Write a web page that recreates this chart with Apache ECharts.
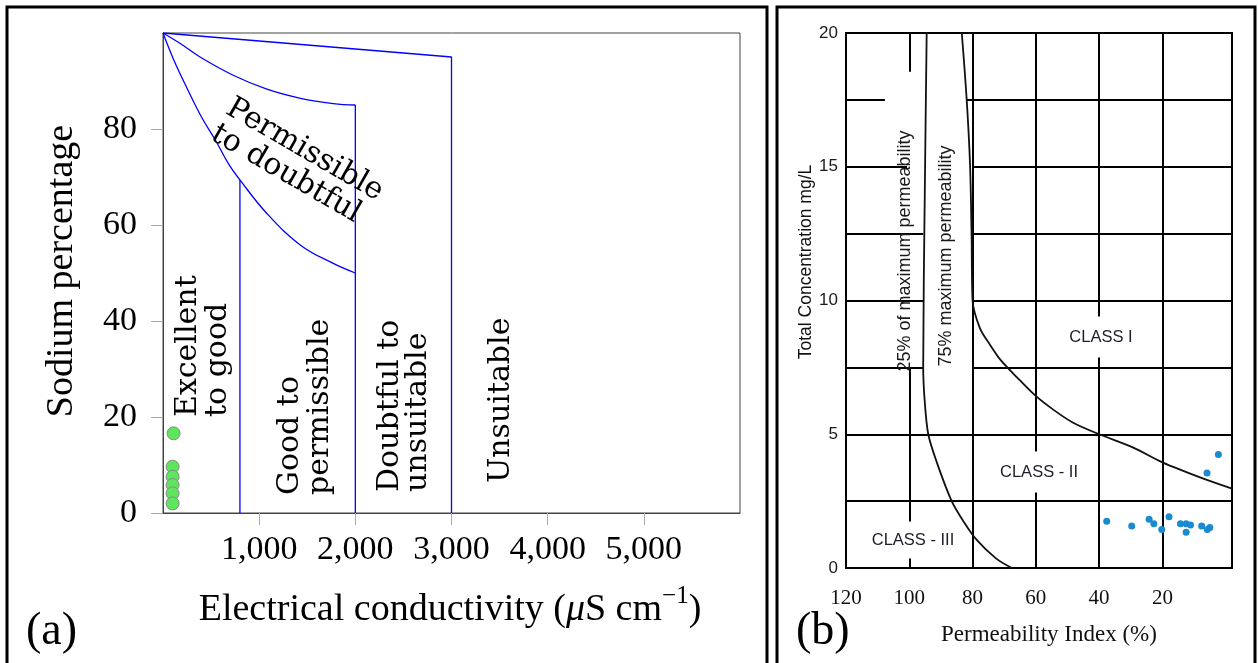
<!DOCTYPE html>
<html>
<head>
<meta charset="utf-8">
<script src="https://cdn.jsdelivr.net/npm/echarts@6/dist/echarts.min.js"></script>
<style>
  html, body { margin: 0; padding: 0; background: #fff; }
  #chart { width: 1258px; height: 663px; }
</style>
</head>
<body>
<div id="chart"></div>
<script>
// ---- panel (a): Wilcox diagram ----
const ecTicks = [1000, 2000, 3000, 4000, 5000]
const naTicks = [0, 20, 40, 60, 80]

// class boundaries (EC µS/cm, Na %)
const wilcoxTopEdge = [[0, 100], [3000, 95], [3000, 0]]
const wilcoxUpperCurve = [[0, 100], [180, 97.8], [385, 95], [730, 91.2], [1080, 88.3], [1430, 86.4], [1770, 85.3], [2000, 85]]
const wilcoxLowerCurve = [[0, 100], [110, 94.5], [250, 88.5], [400, 82.5], [550, 77.5], [680, 72.8], [800, 69.4], [1080, 62.4], [1430, 55.8], [1770, 52], [2000, 50]]
const wilcoxLine2000 = [[2000, 85], [2000, 0]]
const wilcoxLine800 = [[800, 69.4], [800, 0]]

// samples
const sampleEC = [110, 100, 100, 100, 100, 100]
const sampleNa = [16.6, 9.65, 7.56, 5.83, 4.1, 2.0]

// ---- panel (b): Doneen diagram ----
const piTicks = [120, 100, 80, 60, 40, 20]
const tcTicks = [0, 5, 10, 15, 20]

// grid segments [x, yFrom, yTo] and [y, xFrom, xTo]
const doneenVLines = [[100, 18.55, 20], [100, 0, 7.5], [80, 0, 20], [60, 0, 20], [40, 0, 20], [20, 0, 20]]
const doneenHLines = [
  [17.5, 120, 107.7], [17.5, 81.85, -2],
  [15, 120, 100.7], [15, 80, -2],
  [12.5, 120, 95.6], [12.5, 80, -2],
  [10, 120, 95.6], [10, 80, -2],
  [7.5, 120, 95.6], [7.5, 80, -2],
  [5, 120, -2], [2.5, 120, -2]
]

// permeability curves (PI %, total concentration)
const piCurve25 = [[94.5, 20], [95.1, 14], [95.6, 7.5], [95.1, 6.2], [94.0, 5.0], [91.3, 3.95], [86.6, 2.5], [82.9, 1.75], [78.7, 1.05], [72.4, 0.34], [67.6, 0]]
const piCurve75 = [[83.4, 20], [81.85, 17.5], [80.8, 15.1], [80.3, 12.4], [80, 10], [77.65, 8.96], [74.5, 8.35], [71.3, 7.8], [66.05, 7.14], [60.3, 6.46], [54.5, 5.92], [48.2, 5.43], [40, 5.0], [29.2, 4.5], [20, 3.95], [8.1, 3.39], [-2, 2.97]]

// samples
const samplePI = [37.6, 29.7, 24.2, 22.7, 20.2, 17.9, 14.3, 12.5, 12.5, 11.1, 7.6, 5.8, 5.0, 5.9, 2.3]
const sampleTC = [1.75, 1.57, 1.82, 1.65, 1.44, 1.92, 1.65, 1.34, 1.65, 1.61, 1.57, 1.44, 1.51, 3.55, 4.24]

const chart = echarts.init(document.getElementById('chart'))

const serif = 'Liberation Serif'
const dejavu = 'DejaVu Serif'
const sans = 'Liberation Sans'
const blue = '#0000ff'

const blueLine = (data, smooth) => ({
  type: 'line',
  xAxisIndex: 0,
  yAxisIndex: 0,
  data: data,
  smooth: smooth ? 0.4 : false,
  symbol: 'none',
  lineStyle: { color: blue, width: 1.3 },
  z: 3
})

const blackCurve = (data) => ({
  type: 'line',
  xAxisIndex: 1,
  yAxisIndex: 1,
  data: data,
  smooth: 0.3,
  symbol: 'none',
  lineStyle: { color: '#111', width: 1.8 },
  z: 3
})

const gridSegments = []
doneenVLines.forEach(([x, y0, y1]) => gridSegments.push({ coords: [[x, y0], [x, y1]] }))
doneenHLines.forEach(([y, x0, x1]) => gridSegments.push({ coords: [[x0, y], [x1, y]] }))

const vText = (text, x, y, extra) => ({
  type: 'text',
  x: x,
  y: y,
  rotation: Math.PI / 2,
  z: 50,
  style: Object.assign({ text: text, fill: '#000', align: 'left', verticalAlign: 'top' }, extra)
})

const option = {
  animation: false,
  backgroundColor: '#fff',
  grid: [
    { left: 163, top: 33, width: 577, height: 480, show: true, borderColor: '#444', borderWidth: 1 },
    { left: 846, top: 33, width: 386, height: 535, show: true, borderColor: '#000', borderWidth: 2 }
  ],
  xAxis: [
    {
      type: 'value', gridIndex: 0, min: 0, max: 6000,
      axisLine: { lineStyle: { color: '#444' } },
      axisTick: { show: true, length: 12, lineStyle: { color: '#aaa' }, customValues: ecTicks },
      axisLabel: {
        customValues: ecTicks, margin: 20, color: '#000', fontFamily: serif, fontSize: 34,
        formatter: (v) => Number(v).toLocaleString('en-US')
      },
      splitLine: { show: false }
    },
    {
      type: 'value', gridIndex: 1, min: -2, max: 120, inverse: true,
      axisLine: { show: false },
      axisTick: { show: false },
      axisLabel: { customValues: piTicks, margin: 20, color: '#111', fontFamily: serif, fontSize: 21 },
      splitLine: { show: false }
    }
  ],
  yAxis: [
    {
      type: 'value', gridIndex: 0, min: 0, max: 100,
      axisLine: { show: true, lineStyle: { color: '#444' } },
      axisTick: { show: true, length: 12, lineStyle: { color: '#aaa' }, customValues: naTicks },
      axisLabel: { customValues: naTicks, margin: 26, color: '#000', fontFamily: serif, fontSize: 34 },
      splitLine: { show: false }
    },
    {
      type: 'value', gridIndex: 1, min: 0, max: 20,
      axisLine: { show: false },
      axisTick: { show: false },
      axisLabel: { customValues: tcTicks, margin: 8, color: '#1a1a1a', fontFamily: sans, fontSize: 17 },
      splitLine: { show: false }
    }
  ],
  series: [
    blueLine(wilcoxTopEdge, false),
    blueLine(wilcoxUpperCurve, true),
    blueLine(wilcoxLowerCurve, true),
    blueLine(wilcoxLine2000, false),
    blueLine(wilcoxLine800, false),
    {
      type: 'scatter',
      xAxisIndex: 0,
      yAxisIndex: 0,
      data: sampleEC.map((x, i) => [x, sampleNa[i]]),
      symbolSize: 13,
      itemStyle: { color: '#5ce65c', borderColor: '#8a8a8a', borderWidth: 1, opacity: 1 },
      z: 4
    },
    {
      type: 'lines',
      coordinateSystem: 'cartesian2d',
      xAxisIndex: 1,
      yAxisIndex: 1,
      data: gridSegments,
      lineStyle: { color: '#000', width: 2, opacity: 1 },
      z: 2
    },
    blackCurve(piCurve25),
    blackCurve(piCurve75),
    {
      type: 'scatter',
      xAxisIndex: 1,
      yAxisIndex: 1,
      data: samplePI.map((x, i) => [x, sampleTC[i]]),
      symbolSize: 7,
      itemStyle: { color: '#1a8bcf', opacity: 1 },
      z: 4
    }
  ],
  graphic: [
    // panel frames
    { type: 'rect', z: 60, shape: { x: 7, y: 7, width: 760, height: 690 }, style: { fill: 'none', stroke: '#000', lineWidth: 3 } },
    { type: 'rect', z: 60, shape: { x: 777, y: 7, width: 478, height: 690 }, style: { fill: 'none', stroke: '#000', lineWidth: 3 } },

    // panel (a) titles
    {
      type: 'text', x: 62, y: 271, rotation: Math.PI / 2, z: 50,
      style: { text: 'Sodium percentage', fontFamily: serif, fontSize: 38, fill: '#000', align: 'center', verticalAlign: 'middle' }
    },
    {
      type: 'text', x: 450, y: 610, z: 50,
      style: {
        text: '{a|Electrical conductivity (}{i|μ}{a|S cm}{s|−1}{a|)}',
        align: 'center', verticalAlign: 'middle',
        rich: {
          a: { fontFamily: serif, fontSize: 38, lineHeight: 52, fill: '#000' },
          i: { fontFamily: serif, fontSize: 38, lineHeight: 52, fontStyle: 'italic', fill: '#000' },
          s: { fontFamily: serif, fontSize: 25, lineHeight: 26, fill: '#000', verticalAlign: 'top' }
        }
      }
    },
    { type: 'text', x: 26, y: 632, z: 50, style: { text: '(a)', fontFamily: serif, fontSize: 46, fill: '#000', align: 'left', verticalAlign: 'middle' } },

    // panel (a) class labels
    vText('Excellent\nto good', 173, 417, { fontFamily: dejavu, fontSize: 30, lineHeight: 30 }),
    vText('Good to\npermissible', 275, 495, { fontFamily: dejavu, fontSize: 30, lineHeight: 30 }),
    vText('Doubtful to\nunsuitable', 376, 492, { fontFamily: dejavu, fontSize: 30, lineHeight: 28 }),
    vText('Unsuitable', 486, 483, { fontFamily: dejavu, fontSize: 30, lineHeight: 30 }),
    {
      type: 'text', x: 236, y: 93, rotation: -Math.PI / 6, z: 50,
      style: { text: 'Permissible\nto doubtful', fontFamily: dejavu, fontSize: 30, lineHeight: 30, fill: '#000', align: 'left', verticalAlign: 'top' }
    },

    // panel (b) titles
    {
      type: 'text', x: 806, y: 262, rotation: Math.PI / 2, z: 50,
      style: { text: 'Total Concentration mg/L', fontFamily: sans, fontSize: 17.5, fill: '#111', align: 'center', verticalAlign: 'middle' }
    },
    {
      type: 'text', x: 1049, y: 635, z: 50,
      style: { text: 'Permeability Index (%)', fontFamily: serif, fontSize: 23, fill: '#111', align: 'center', verticalAlign: 'middle' }
    },
    { type: 'text', x: 796, y: 632, z: 50, style: { text: '(b)', fontFamily: serif, fontSize: 46, fill: '#000', align: 'left', verticalAlign: 'middle' } },

    // panel (b) labels
    {
      type: 'text', x: 905, y: 251, rotation: Math.PI / 2, z: 50,
      style: { text: '25% of maximum permeability', fontFamily: sans, fontSize: 18, fill: '#1a1a1a', align: 'center', verticalAlign: 'middle' }
    },
    {
      type: 'text', x: 946, y: 256, rotation: Math.PI / 2, z: 50,
      style: { text: '75% maximum permeability', fontFamily: sans, fontSize: 18, fill: '#1a1a1a', align: 'center', verticalAlign: 'middle' }
    },
    {
      type: 'text', x: 1101, y: 337, z: 50,
      style: { text: 'CLASS I', fontFamily: sans, fontSize: 16.5, fill: '#1c1c2a', align: 'center', verticalAlign: 'middle', backgroundColor: '#fff', padding: [12, 3, 12, 3] }
    },
    {
      type: 'text', x: 1039, y: 472, z: 50,
      style: { text: 'CLASS - II', fontFamily: sans, fontSize: 16.5, fill: '#1c1c2a', align: 'center', verticalAlign: 'middle', backgroundColor: '#fff', padding: [12, 3, 12, 3] }
    },
    {
      type: 'text', x: 913, y: 540, z: 50,
      style: { text: 'CLASS - III', fontFamily: sans, fontSize: 16.5, fill: '#1c1c2a', align: 'center', verticalAlign: 'middle', backgroundColor: '#fff', padding: [10, 3, 10, 3] }
    }
  ]
}

chart.setOption(option)
</script>
</body>
</html>
